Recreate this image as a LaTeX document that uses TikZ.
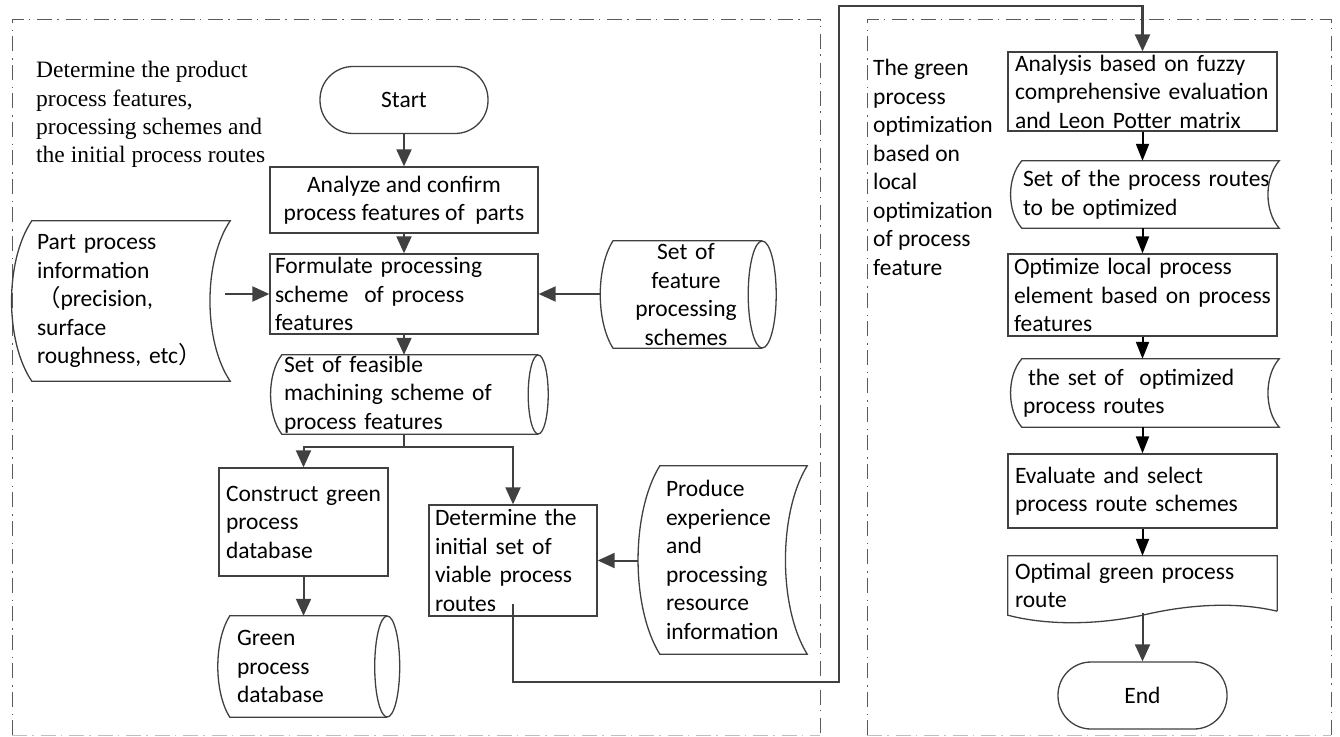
\documentclass[tikz,border=0pt]{standalone}
\usepackage{fontspec}
\setmainfont{Carlito}
\newfontfamily\tnr{Liberation Serif}
\newfontfamily\cjk{Noto Sans CJK SC}
\usetikzlibrary{arrows.meta,calc}
\definecolor{linegray}{HTML}{404040}
\definecolor{framegray}{HTML}{5A5A5A}

\begin{document}
\begin{tikzpicture}[x=1pt,y=-1pt,
    every node/.style={font=\fontsize{23.5}{28.5}\selectfont, inner sep=0pt},
    proc/.style={draw=linegray, line width=1.3pt, align=left},
    bare/.style={align=left},
    shp/.style={draw=linegray, line width=1.3pt},
    flow/.style={draw=linegray, line width=2pt, -{Triangle[length=17pt,width=15pt]}},
    flowk/.style={draw=black, line width=2pt, -{Triangle[length=17pt,width=13pt]}},
    zone/.style={draw=framegray, line width=1pt, dash pattern=on 15pt off 5pt on 1.5pt off 7pt},
  ]
  \useasboundingbox (0,0) rectangle (1340,736);

  % the two regions
  \draw[zone] (12,735) -- (12,19) -- (820,19) -- (820,735);
  \draw[zone, draw=black!25] (12,735) -- (820,735);
  \draw[zone] (867,735) -- (867,19) -- (1331,19) -- (1331,735);
  \draw[zone, draw=black!25] (867,735) -- (1331,735);

  \node[bare, anchor=west, font=\tnr\fontsize{23.5}{28.3}\selectfont] (lblL) at (36,114.5)
    {Determine the product\\process features,\\processing schemes and\\the initial process routes};
  \node[bare, anchor=west] (lblR) at (873,167.5)
    {The green\\process\\optimization\\based on\\local\\optimization\\of process\\feature};

  % left part
  \node[proc, rounded corners=33pt, minimum width=168pt, minimum height=67pt, align=center] (start) at (404,100) {Start};
  \node[proc, minimum width=268pt, minimum height=66pt, align=center] (conf) at (404,200)
    {Analyze and confirm\\process features of\ \ parts};
  \node[proc, minimum height=80pt, text width=258pt, inner xsep=5pt] (form) at (404,294)
    {Formulate processing\\scheme\ \ of process\\features};
  \node[bare, minimum height=79pt, text width=252pt, inner xsep=2pt] (feas) at (410,394.5)
    {Set of feasible\\machining scheme of\\process features};
  \node[bare, minimum height=107pt, text width=143pt, align=center] (feat) at (686,294.5)
    {Set of\\feature\\processing\\schemes};
  \node[bare, minimum height=160pt, text width=188pt, inner xsep=5pt] (part) at (131,301)
    {Part process\\information\\{\cjk（}precision,\\surface\\roughness, etc{\cjk）}};
  \node[proc, minimum height=108pt, text width=155pt, inner xsep=7pt] (cons) at (303.5,522)
    {Construct green\\process\\database};
  \node[bare, minimum height=101pt, text width=143pt, inner xsep=7pt] (gdb) at (308.5,666.5)
    {Green\\process\\database};
  \node[proc, minimum height=111pt, text width=156pt, inner xsep=6pt] (det) at (513,560.5)
    {Determine the\\initial set of\\viable process\\routes};
  \node[bare, minimum height=188pt, text width=135pt, inner xsep=6pt] (prod) at (733.5,560)
    {Produce\\experience\\and\\processing\\resource\\information};

  % right part
  \node[proc, minimum height=79pt, text width=255pt, inner xsep=7pt] (fuzz) at (1142.5,91.5)
    {Analysis based on fuzzy\\comprehensive evaluation\\and Leon Potter matrix};
  \node[bare, minimum height=67pt, text width=255pt, inner xsep=1pt] (toopt) at (1150.5,194.5)
    {Set of the process routes\\to be optimized};
  \node[proc, minimum height=82pt, text width=257pt, inner xsep=6pt] (loc) at (1142.5,295)
    {Optimize local process\\element based on process\\features};
  \node[bare, minimum height=68pt, text width=255pt, inner xsep=1pt] (opted) at (1150.5,393)
    {\hspace*{5pt}the set of\ \ optimized\\process routes};
  \node[proc, minimum height=74pt, text width=255pt, inner xsep=7pt] (eval) at (1142.5,491)
    {Evaluate and select\\process route schemes};
  \node[bare, minimum height=59pt, text width=255pt, inner xsep=7pt] (best) at (1142.5,585.5)
    {Optimal green process\\route};
  \node[proc, rounded corners=33pt, minimum width=169pt, minimum height=67pt, align=center] (fin) at (1142.5,695.5) {End};

  % stored data outlines
  \draw[shp] (part.north west) -- (part.north east) .. controls +(-27,40) and +(-27,-40) .. (part.south east)
    -- (part.south west) .. controls +(-27,-40) and +(-27,40) .. (part.north west) -- cycle;
  \draw[shp] (prod.north west) -- (prod.north east) .. controls +(-29,47) and +(-29,-47) .. (prod.south east)
    -- (prod.south west) .. controls +(-29,-47) and +(-29,47) .. (prod.north west) -- cycle;
  \foreach \n in {toopt,opted} {
    \draw[shp] (\n.north west) -- (\n.north east) .. controls +(-15,17) and +(-15,-17) .. (\n.south east)
      -- (\n.south west) .. controls +(-15,-17) and +(-15,17) .. (\n.north west) -- cycle;
  }

  % lying cylinders
  \draw[shp] (feas.north east) -- (feas.north west) .. controls +(-15,20) and +(-15,-20) .. (feas.south west) -- (feas.south east);
  \draw[shp] (feas.east) ellipse[x radius=10pt, y radius=39.5pt];
  \draw[shp] ([xshift=4.5pt]feat.north east) -- ([xshift=-73pt]feat.north) .. controls +(-17,27) and +(-17,-27) .. ([xshift=-73pt]feat.south) -- ([xshift=4.5pt]feat.south east);
  \draw[shp] ([xshift=4.5pt]feat.east) ellipse[x radius=14pt, y radius=53.5pt];
  \draw[shp] (gdb.north east) -- (gdb.north west) .. controls +(-16,25) and +(-16,-25) .. (gdb.south west) -- (gdb.south east);
  \draw[shp] (gdb.east) ellipse[x radius=12.5pt, y radius=50.5pt];

  % document shape
  \draw[shp] ([yshift=4pt]best.south east) -- (best.north east) -- (best.north west) -- (best.south west)
    .. controls +(42,11) and +(-42,9) .. (best.south) .. controls +(38,-9) and +(-47,-11) .. ([yshift=4pt]best.south east);

  % connectors
  \draw[flow] (start.south) -- (conf.north);
  \draw[flow] (conf.south) -- (form.north);
  \draw[flow] (form.south) -- (form.south |- feas.north);
  \draw[flow] ($(part.east |- form.west)+(-5,0)$) -- (form.west);
  \draw[flow] ($(form.east -| feat.west)+(-13,0)$) -- (form.east);
  \draw[flow] (form.south |- feas.south) -- ++(0,13) -| (cons.north);
  \draw[flow] (form.south |- feas.south) -- ++(0,13) -| (det.north);
  \draw[flow] (cons.south) -- (cons.south |- gdb.north);
  \draw[flow] ($(det.east -| prod.west)+(-22,0)$) -- (det.east);
  \draw[flow, line width=2.4pt] ([yshift=13pt]det.south) |- (839,682) |- (fuzz.north |- 0,6) -- (fuzz.north);
  \foreach \a/\b in {fuzz/toopt,toopt/loc,loc/opted,opted/eval,eval/best} {
    \draw[flowk] (fuzz.north |- \a.south) -- (fuzz.north |- \b.north);
  }
  \draw[flow] ([yshift=2pt]best.south) -- (fin.north);
\end{tikzpicture}
\end{document}
